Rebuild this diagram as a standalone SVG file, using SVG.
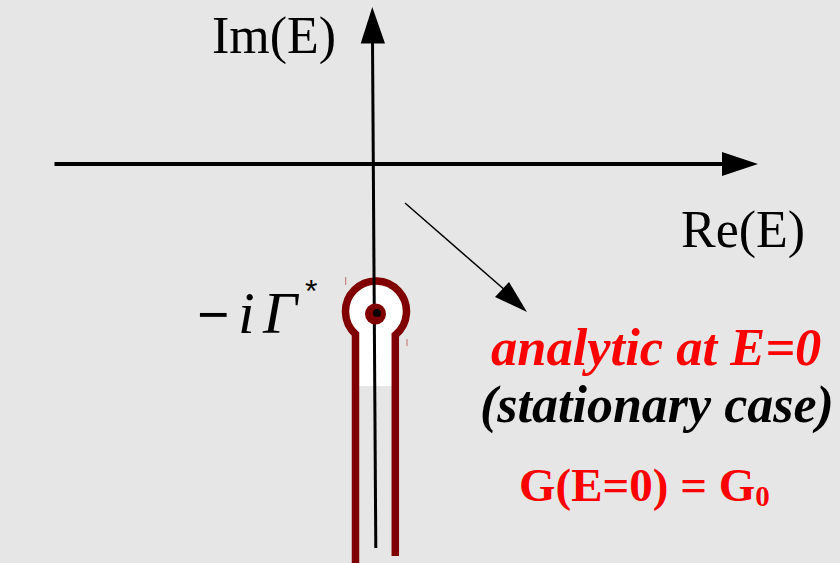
<svg xmlns="http://www.w3.org/2000/svg" width="840" height="563" viewBox="0 0 840 563">
  <style>
    .axis { stroke: #000; fill: none; }
    .head { fill: #000; stroke: none; }
    .serif { font-family: "Liberation Serif", "Times New Roman", serif; }
    .sans { font-family: "Liberation Sans", Arial, sans-serif; }
    .red { fill: #ff0000; }
    .dred { stroke: #800000; }
  </style>
  <rect width="840" height="563" fill="#e6e6e6"/>

  <g id="cut">
    <circle cx="376" cy="311.5" r="30.5" fill="#ffffff"/>
    <rect x="356" y="330" width="39" height="56" fill="#ffffff"/>
    <path class="dred" d="M355.5,563 L355.5,334.1 A30.5,30.5 0 1 1 395.3,335.1 L395.3,556" fill="none" stroke-width="7.5"/>
    <line x1="345.7" y1="277" x2="345.7" y2="285" stroke="#c07070" stroke-width="1"/>
    <line x1="407" y1="339" x2="407" y2="346" stroke="#c07070" stroke-width="1"/>
  </g>

  <g id="connectors">
    <line class="axis" x1="54.5" y1="164" x2="723" y2="164" stroke-width="4"/>
    <polygon class="head" points="722,152 758,164 722,176"/>
    <line class="axis" x1="372.5" y1="40" x2="375.8" y2="548" stroke-width="3"/>
    <polygon class="head" points="372.3,7 360.7,43.5 385,43.5"/>
    <line class="axis" x1="405" y1="203" x2="506" y2="291" stroke-width="1.5"/>
    <polygon class="head" points="527,312 509,282 495,297"/>
  </g>

  <g id="pole">
    <circle cx="375.5" cy="314" r="10.5" fill="#800000"/>
    <circle cx="377" cy="313" r="4" fill="#000"/>
  </g>

  <g id="label-im">
    <text class="serif" x="212" y="53" font-size="52" fill="#000">Im(E)</text>
  </g>
  <g id="label-re">
    <text class="serif" x="681" y="247" font-size="52" fill="#000">Re(E)</text>
  </g>
  <g id="label-pole">
    <text class="sans" x="197" y="333" font-size="55" fill="#000">−</text>
    <text class="serif" x="238" y="333" font-size="60" font-style="italic" fill="#000">i</text>
    <text class="serif" x="263" y="333" font-size="60" font-style="italic" fill="#000">Γ</text>
    <text class="sans" x="305" y="302" font-size="32" fill="#000">*</text>
  </g>
  <g id="label-analytic">
    <text class="serif red" x="491" y="365" font-size="52.5" font-weight="bold" font-style="italic">analytic at E=0</text>
  </g>
  <g id="label-stationary">
    <text class="serif" x="480" y="422" font-size="52" font-weight="bold" font-style="italic" fill="#000">(stationary case)</text>
  </g>
  <g id="label-g">
    <text class="serif red" x="519" y="501" font-size="47" font-weight="bold">G(E=0) = G<tspan font-size="29" dy="5">0</tspan></text>
  </g>
</svg>
